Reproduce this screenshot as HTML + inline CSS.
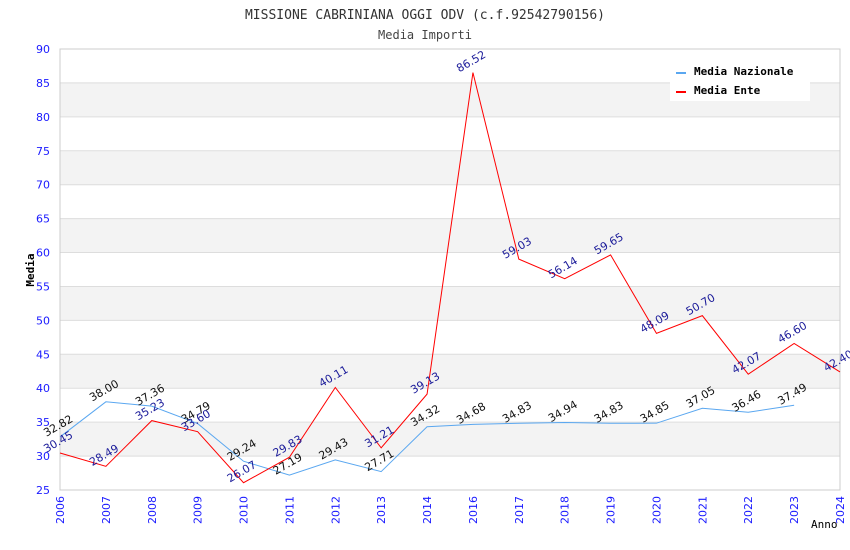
<!DOCTYPE html>
<html><head><meta charset="utf-8"><style>
body{margin:0;background:#fff;}
svg{display:block;font-family:"DejaVu Sans","Liberation Sans",sans-serif;}
.mono{font-family:"DejaVu Sans Mono","Liberation Mono",monospace;}
</style></head><body>
<svg id="chart" width="850" height="550">
<text class="mono" x="425" y="19" text-anchor="middle" font-size="13" fill="#333">MISSIONE CABRINIANA OGGI ODV (c.f.92542790156)</text>
<text class="mono" x="425" y="39" text-anchor="middle" font-size="12" fill="#444">Media Importi</text>
<g id="grid"></g>
<g id="axes"></g>
<g id="series"></g>
<text class="mono" x="34" y="270" text-anchor="middle" font-size="11" font-weight="bold" fill="#000" transform="rotate(-90 34 270)">Media</text>
<text class="mono" x="811" y="528" font-size="11" fill="#000">Anno</text>
<g>
<rect x="670" y="58" width="140" height="43" fill="#fff"/>
<g>
<rect x="676" y="72" width="10" height="2" fill="#5aa7f0"/>
<text class="mono" x="694" y="75" font-size="11" font-weight="bold" fill="#000">Media Nazionale</text></g>
<g>
<rect x="676" y="91" width="10" height="2" fill="#ff0000"/>
<text class="mono" x="694" y="94" font-size="11" font-weight="bold" fill="#000">Media Ente</text></g>
</g>
</svg>
<script>
const categories=["2006","2007","2008","2009","2010","2011","2012","2013","2014","2016","2017","2018","2019","2020","2021","2022","2023","2024"];
const nazionale=[32.82,38.00,37.36,34.79,29.24,27.19,29.43,27.71,34.32,34.68,34.83,34.94,34.83,34.85,37.05,36.46,37.49];
const ente=[30.45,28.49,35.23,33.60,26.07,29.83,40.11,31.21,39.13,86.52,59.03,56.14,59.65,48.09,50.70,42.07,46.60,42.40];
const yTicks=[25,30,35,40,45,50,55,60,65,70,75,80,85,90];
const NS="http://www.w3.org/2000/svg";
const L=60,R=840,T=49,B=490,ymin=25,ymax=90;
const xs=i=>L+i*(R-L)/(categories.length-1);
const ys=v=>B-(v-ymin)/(ymax-ymin)*(B-T);
function mk(tag,attrs,parent){const e=document.createElementNS(NS,tag);for(const k in attrs)e.setAttribute(k,attrs[k]);parent.appendChild(e);return e;}
const grid=document.getElementById('grid'),axes=document.getElementById('axes'),series=document.getElementById('series');
for(let i=0;i<yTicks.length-1;i++){
  const a=yTicks[i],b=yTicks[i+1];
  const r=mk('rect',{x:L,y:ys(b),width:R-L,height:ys(a)-ys(b),fill:(i%2===1)?'#f3f3f3':'#fff'},grid);
  
  
}
yTicks.forEach(v=>{
  const l=mk('line',{x1:L,x2:R,y1:ys(v),y2:ys(v),stroke:'#ddd','stroke-width':1},grid);
  
  
  const t=mk('text',{x:50,y:ys(v)+4,'text-anchor':'end','font-size':11,fill:'#1a1aff'},axes);
  t.textContent=v;
  
  
});
const fr=mk('rect',{x:L,y:T,width:R-L,height:B-T,fill:'none',stroke:'#ccc'},axes);


categories.forEach((c,i)=>{
  const x=xs(i)+4,y=B+6;
  const t=mk('text',{x:x,y:y,'text-anchor':'end','font-size':11,fill:'#1a1aff',transform:`rotate(-90 ${x} ${y})`},axes);
  t.textContent=c;
  
  
});
function drawSeries(vals,color,labelColor,name){
  const p=mk('polyline',{points:vals.map((v,i)=>xs(i)+','+ys(v)).join(' '),fill:'none',stroke:color,'stroke-width':1},series);
  
  
  vals.forEach((v,i)=>{
    const x=xs(i),y=ys(v)-8;
    const t=mk('text',{x:x,y:y,'text-anchor':'middle','font-size':11,fill:labelColor,transform:`rotate(-30 ${x} ${y})`},series);
    t.textContent=v.toFixed(2);
    
    
  });
}
drawSeries(nazionale,'#5aa7f0','#111','nazionale');
drawSeries(ente,'#ff0000','#1a1a99','ente');
</script>
</body></html>
